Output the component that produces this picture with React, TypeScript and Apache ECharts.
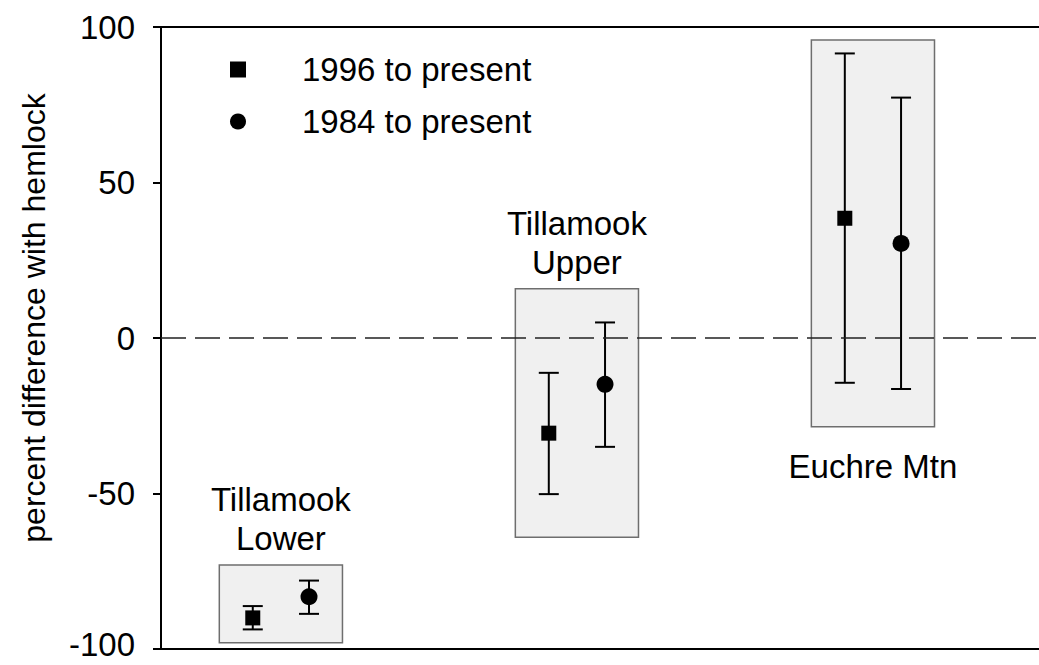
import React, { useEffect, useRef } from "react";
import * as echarts from "echarts";

// ---- data ----
const siteNames = ["Tillamook\nLower", "Tillamook\nUpper", "Euchre Mtn"];
const sitePositions = [1, 2, 3];
const mean1996 = [-90.0, -30.6, 38.5];
const low1996 = [-93.7, -50.2, -14.4];
const high1996 = [-86.2, -11.2, 91.5];
const mean1984 = [-83.2, -14.9, 30.4];
const low1984 = [-88.7, -35.0, -16.4];
const high1984 = [-78.0, 5.0, 77.3];
const boxTop = [-73.0, 15.8, 95.8];
const boxBottom = [-98.0, -64.1, -28.5];
const labelBelow = [false, false, true];
const seriesNames = ["1996 to present", "1984 to present"];
const yMin = -100;
const yMax = 100;
const yInterval = 50;

// ---- layout / style ----
const FONT = "'Liberation Sans', Arial, Helvetica, sans-serif";
const OFFSET = 0.095;
const BOX_HALF = 0.208;
const CAP = 10;
const X_MIN = 0.595;
const X_MAX = 3.561;

export default function App() {
  const ref = useRef<HTMLDivElement>(null);
  useEffect(() => {
    if (!ref.current) return;
    const chart = echarts.init(ref.current, undefined, { renderer: "svg" });

    const boxData = sitePositions.map((p, i) => [p, boxTop[i], boxBottom[i], i]);
    const errData = [
      ...sitePositions.map((p, i) => [p - OFFSET, low1996[i], high1996[i]]),
      ...sitePositions.map((p, i) => [p + OFFSET, low1984[i], high1984[i]]),
    ];
    const pts1996 = sitePositions.map((p, i) => [p - OFFSET, mean1996[i]]);
    const pts1984 = sitePositions.map((p, i) => [p + OFFSET, mean1984[i]]);

    const xAxisBase = {
      type: "value",
      min: X_MIN,
      max: X_MAX,
      axisLine: { show: true, onZero: false, lineStyle: { color: "#000", width: 2 } },
      axisTick: { show: false },
      axisLabel: { show: false },
      splitLine: { show: false },
    };

    chart.setOption({
      animation: false,
      backgroundColor: "#fff",
      textStyle: { fontFamily: FONT },
      grid: { left: 161, right: 0, top: 27, bottom: 16, outerBoundsMode: "none" },
      legend: {
        orient: "vertical",
        left: 225,
        top: 48,
        itemWidth: 16,
        itemHeight: 16,
        itemGap: 19,
        itemStyle: { color: "#000", opacity: 1 },
        data: [
          { name: seriesNames[0], icon: "rect" },
          { name: seriesNames[1], icon: "circle" },
        ],
        textStyle: { fontSize: 33, color: "#000", fontFamily: FONT, padding: [0, 0, 0, 51] },
      },
      xAxis: [
        { ...xAxisBase, position: "bottom" },
        { ...xAxisBase, position: "top" },
      ],
      yAxis: {
        type: "value",
        min: yMin,
        max: yMax,
        interval: yInterval,
        axisLine: { show: true, onZero: false, lineStyle: { color: "#000", width: 2 } },
        axisTick: { show: true, inside: false, length: 8, lineStyle: { color: "#000", width: 2 } },
        axisLabel: {
          fontSize: 33,
          color: "#000",
          margin: 26,
          fontFamily: FONT,
          formatter: (v: number) => (v === yMin ? `{low|${v}}` : `${v}`),
          rich: {
            low: { fontSize: 33, color: "#000", fontFamily: FONT, padding: [0, 0, 10, 0] },
          },
        },
        splitLine: { show: false },
      },
      graphic: [
        {
          type: "text",
          x: 34,
          y: 318,
          rotation: Math.PI / 2,
          style: {
            text: "percent difference with hemlock",
            font: `32px ${FONT}`,
            fill: "#000",
            align: "center",
            verticalAlign: "middle",
          },
        },
      ],
      series: [
        {
          type: "custom",
          name: "boxes",
          z: 1,
          data: boxData,
          renderItem: (params: any, api: any) => {
            const x = api.value(0);
            const top = api.value(1);
            const bot = api.value(2);
            const idx = api.value(3);
            const a = api.coord([x - BOX_HALF, top]);
            const b = api.coord([x + BOX_HALF, bot]);
            const below = labelBelow[idx];
            return {
              type: "group",
              children: [
                {
                  type: "rect",
                  shape: { x: a[0], y: a[1], width: b[0] - a[0], height: b[1] - a[1] },
                  style: { fill: "#f0f0f0", stroke: "#6e6e6e", lineWidth: 1.5 },
                },
                {
                  type: "text",
                  style: {
                    text: siteNames[idx],
                    x: (a[0] + b[0]) / 2,
                    y: below ? b[1] + 20 : a[1] - 7,
                    align: "center",
                    verticalAlign: below ? "top" : "bottom",
                    font: `33px ${FONT}`,
                    lineHeight: 39,
                    fill: "#000",
                  },
                },
              ],
            };
          },
        },
        {
          type: "custom",
          name: "errors",
          z: 3,
          data: errData,
          renderItem: (params: any, api: any) => {
            const x = api.value(0);
            const lo = api.coord([x, api.value(1)]);
            const hi = api.coord([x, api.value(2)]);
            const st = { stroke: "#000", lineWidth: 2 };
            return {
              type: "group",
              children: [
                { type: "line", shape: { x1: lo[0], y1: lo[1], x2: hi[0], y2: hi[1] }, style: st },
                { type: "line", shape: { x1: lo[0] - CAP, y1: lo[1], x2: lo[0] + CAP, y2: lo[1] }, style: st },
                { type: "line", shape: { x1: hi[0] - CAP, y1: hi[1], x2: hi[0] + CAP, y2: hi[1] }, style: st },
              ],
            };
          },
          markLine: {
            silent: true,
            symbol: ["none", "none"],
            label: { show: false },
            lineStyle: { type: [25, 9], color: "#222", width: 1.5 },
            data: [{ yAxis: 0 }],
          },
        },
        {
          type: "scatter",
          name: seriesNames[0],
          z: 4,
          symbol: "rect",
          symbolSize: 15,
          itemStyle: { color: "#000", opacity: 1 },
          data: pts1996,
        },
        {
          type: "scatter",
          name: seriesNames[1],
          z: 4,
          symbol: "circle",
          symbolSize: 17,
          itemStyle: { color: "#000", opacity: 1 },
          data: pts1984,
        },
      ],
    } as any);

    return () => chart.dispose();
  }, []);

  return (
    <div
      ref={ref}
      style={{ position: "fixed", left: 0, top: 0, width: 1039, height: 665, background: "#fff" }}
    />
  );
}
